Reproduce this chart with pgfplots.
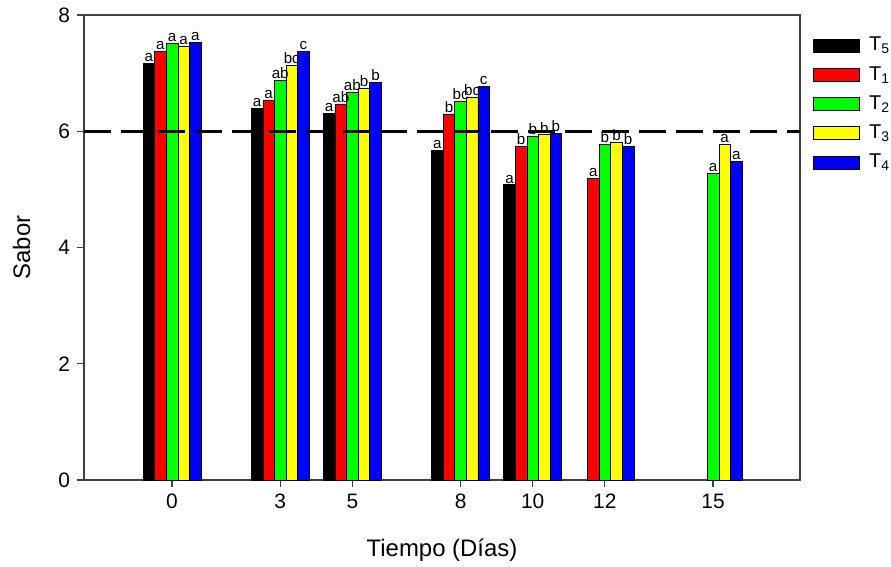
\documentclass[border=0pt]{standalone}
\usepackage{fontspec}
\setmainfont{Liberation Sans}
\usepackage{pgfplots}
\pgfplotsset{compat=1.18}

\definecolor{axgray}{HTML}{404040}
\definecolor{bgreen}{HTML}{00FF00}
\definecolor{byellow}{HTML}{FFFF00}

\begin{document}
\begin{tikzpicture}
\begin{axis}[
    scale only axis,
    width=358bp, height=232.5bp,
    xmin=-2.44, xmax=17.41,
    ymin=0, ymax=8,
    ybar=0pt, bar width=5.8bp,
    axis line style={axgray, line width=0.6bp},
    xtick={0,3,5,8,10,12,15},
    ytick={0,2,4,6,8},
    tick align=outside, tick pos=left,
    major tick length=3.5bp,
    tick style={axgray, line width=0.6bp},
    ticklabel style={font=\fontsize{10.5}{12}\selectfont},
    /pgf/number format/assume math mode=true,
    xlabel={Tiempo (Días)},
    ylabel={Sabor},
    label style={font=\fontsize{12}{14}\selectfont},
    xlabel style={at={(axis description cs:0.5,-0.152)}, anchor=center},
    ylabel style={at={(axis description cs:-0.087,0.5)}, anchor=center},
    legend style={draw=none, fill=none,
        at={(axis description cs:1.017,0.962)}, anchor=north west,
        font=\fontsize{10}{12}\selectfont,
        inner sep=0pt, row sep=2.3bp,
        /tikz/every even column/.append style={column sep=5bp}},
    legend image code/.code={\draw[#1] (0bp,-3.25bp) rectangle (23bp,3.25bp);},
    legend cell align=left,
    nodes near coords,
    point meta=explicit symbolic,
    every node near coord/.append style={font=\fontsize{7.6}{9}\selectfont, inner sep=0.6bp, black},
]
% T5
\addplot[fill=black, draw=black, line width=0.3bp] coordinates {
    (0,7.17) [a] (3,6.40) [a] (5,6.31) [a] (8,5.67) [a] (10,5.08) [a]
};
\addlegendentry{\hspace{3bp}T\textsubscript{5}}
% T1
\addplot[fill=red, draw=black, line width=0.3bp] coordinates {
    (0,7.37) [a] (3,6.54) [a] (5,6.47) [ab] (8,6.30) [b] (10,5.74) [b] (12,5.19) [a]
};
\addlegendentry{\hspace{3bp}T\textsubscript{1}}
% T2
\addplot[fill=bgreen, draw=black, line width=0.3bp] coordinates {
    (0,7.52) [a] (3,6.88) [ab] (5,6.67) [ab] (8,6.51) [bc] (10,5.91) [b] (12,5.77) [b] (15,5.28) [a]
};
\addlegendentry{\hspace{3bp}T\textsubscript{2}}
% T3
\addplot[fill=byellow, draw=black, line width=0.3bp] coordinates {
    (0,7.47) [a] (3,7.14) [bc] (5,6.74) [b] (8,6.58) [bc] (10,5.94) [b] (12,5.81) [b] (15,5.77) [a]
};
\addlegendentry{\hspace{3bp}T\textsubscript{3}}
% T4
\addplot[fill=blue, draw=black, line width=0.3bp] coordinates {
    (0,7.53) [a] (3,7.37) [c] (5,6.84) [b] (8,6.77) [c] (10,5.97) [b] (12,5.74) [b] (15,5.48) [a]
};
\addlegendentry{\hspace{3bp}T\textsubscript{4}}
% reference line
\addplot[sharp plot, forget plot, black, line width=1.35bp,
    dash pattern=on 13.5bp off 5bp, nodes near coords={}] coordinates {
    (-2.44,6) (17.41,6)
};
\end{axis}
\pgfresetboundingbox
\path[use as bounding box] (current axis.south west) ++(-42bp,-43.5bp) rectangle ++(445.5bp,283.5bp);
\end{tikzpicture}
\end{document}
